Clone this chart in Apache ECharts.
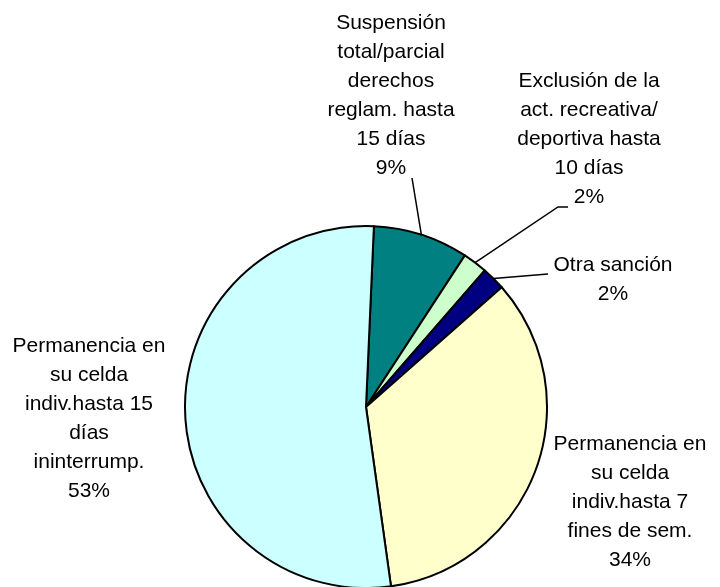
<!DOCTYPE html>
<html>
<head>
<meta charset="utf-8">
<script src="https://cdn.jsdelivr.net/npm/echarts@6/dist/echarts.min.js"></script>
<style>
html, body {margin: 0; padding: 0; background: #fff;}
#main {width: 720px; height: 587px;}
</style>
</head>
<body>
<div id="main"></div>
<script>
// categorias (clockwise desde arriba)
var categories = [
    'Suspensión\ntotal/parcial\nderechos\nreglam. hasta\n15 días',
    'Exclusión de la\nact. recreativa/\ndeportiva hasta\n10 días',
    'Otra sanción',
    'Permanencia en\nsu celda\nindiv.hasta 7\nfines de sem.',
    'Permanencia en\nsu celda\nindiv.hasta 15\ndías\nininterrump.'
];
var values = [8.5, 2.2, 2.1, 34.3, 52.9];
var colors = ['#008080', '#CCFFCC', '#000080', '#FFFFCC', '#CCFFFF'];

// label layout (only placement)
var labelPos = [[391, 96], [589, 139], [613, 280], [630, 502], [89, 419]];
var lineEnd = [[[412, 178]], [[558, 207], [568, 207]], [[548, 274]], null, null];

var chart = echarts.init(document.getElementById('main'));

var data = [];
for (var i = 0; i < values.length; i++) {
    data.push({
        name: categories[i],
        value: values[i],
        itemStyle: {color: colors[i]},
        labelLine: {show: lineEnd[i] != null}
    });
}

var option = {
    backgroundColor: '#fff',
    animation: false,
    series: [
        {
            type: 'pie',
            center: [366, 407],
            radius: [0, 181],
            startAngle: 87.5,
            clockwise: true,
            percentPrecision: 0,
            avoidLabelOverlap: false,
            data: data,
            itemStyle: {
                borderColor: '#000',
                borderWidth: 2
            },
            label: {
                show: true,
                formatter: '{b}\n{d}%',
                fontFamily: 'Liberation Sans, Arial, sans-serif',
                fontSize: 21,
                lineHeight: 29,
                color: '#000',
                align: 'center'
            },
            labelLine: {
                lineStyle: {color: '#000', width: 1.5}
            },
            labelLayout: function (params) {
                var i = params.dataIndex;
                var out = {
                    x: labelPos[i][0],
                    y: labelPos[i][1],
                    align: 'center',
                    verticalAlign: 'middle',
                    hideOverlap: false
                };
                if (lineEnd[i] && params.labelLinePoints) {
                    out.labelLinePoints = [params.labelLinePoints[0]].concat(lineEnd[i]);
                }
                return out;
            },
            emphasis: {disabled: true}
        }
    ]
};

chart.setOption(option);
</script>
</body>
</html>
